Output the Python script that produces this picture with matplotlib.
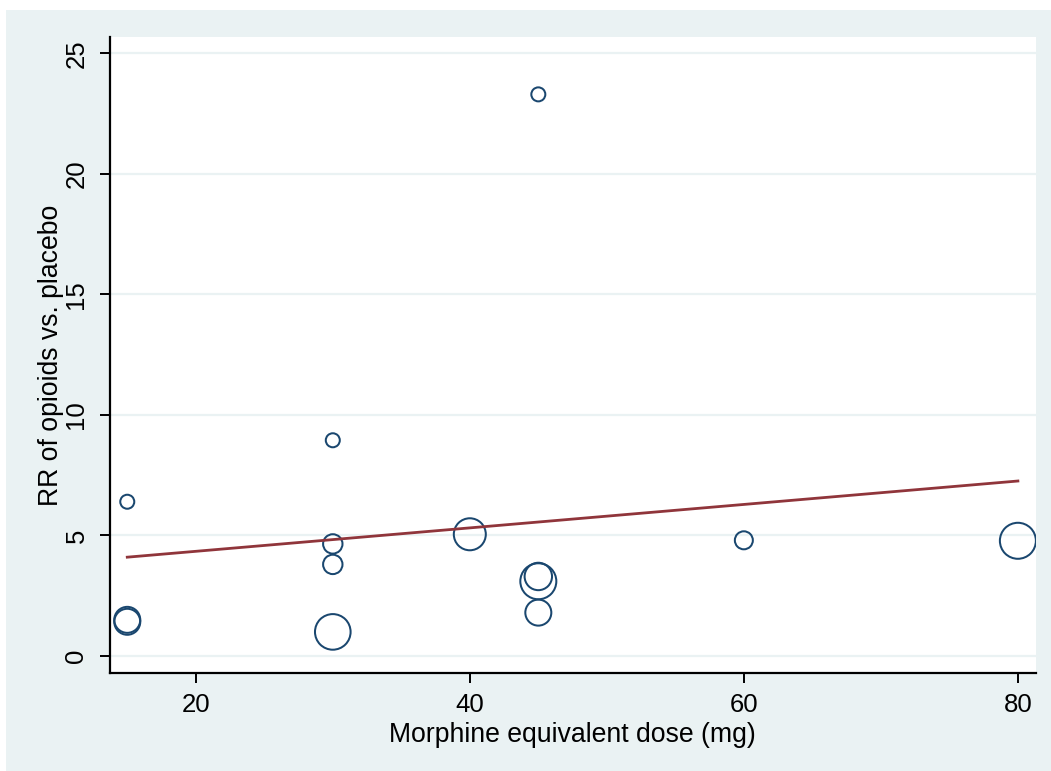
import matplotlib
matplotlib.use("Agg")
import matplotlib.pyplot as plt
from matplotlib.patches import Rectangle
import numpy as np

# Data
dose = [15, 15, 15, 30, 30, 30, 30, 40, 45, 45, 45, 45, 60, 80]
rr = [6.4, 1.5, 1.42, 8.95, 4.65, 3.8, 1.0, 5.05, 23.3, 3.3, 3.1, 1.8, 4.8, 4.78]
# relative study weight (bubble area)
weights = [49, 169, 169, 49, 94, 94, 317, 256, 49, 188, 324, 169, 81, 324]

fit_x = [15, 80]
fit_y = [4.1, 7.26]

xticks = [20, 40, 60, 80]
yticks = [0, 5, 10, 15, 20, 25]
xlabel = "Morphine equivalent dose (mg)"
ylabel = "RR of opioids vs. placebo"

W, H = 1051, 771
fig = plt.figure(figsize=(W / 100, H / 100), dpi=100)
fig.patch.set_facecolor("white")
fig.patches.append(Rectangle((6 / W, 0), 1 - 6 / W, (H - 10) / H,
                             transform=fig.transFigure, facecolor="#eaf2f3",
                             edgecolor="none", zorder=-10))

left, right, top, bottom = 110, 1035.7, 37, 673
ax = fig.add_axes([left / W, (H - bottom) / H, (right - left) / W, (bottom - top) / H])
ax.set_facecolor("white")

ax.set_xlim(13.74, 81.3)
ax.set_ylim(-0.705, 25.68)

for y in yticks:
    ax.axhline(y, color="#eaf2f3", lw=1.6, zorder=1)

# bubble sizes: weight ~ radius^2 in px
sizes = [(2 * np.sqrt(w) * 0.72) ** 2 for w in weights]
ax.scatter(dose, rr, s=sizes, facecolors="none", edgecolors="#1a476f",
           linewidths=1.45, zorder=3)

ax.plot(fit_x, fit_y, color="#90353b", lw=2.0, zorder=4)

ax.set_xticks(xticks)
ax.set_yticks(yticks)
ax.tick_params(axis="both", direction="out", length=7.5, width=1.4, color="black",
               labelsize=18.5)
ax.tick_params(axis="x", pad=6.8)
ax.tick_params(axis="y", pad=8)
for lab in ax.get_yticklabels():
    lab.set_rotation(90)
    lab.set_va("center")
for lab in ax.get_xticklabels() + ax.get_yticklabels():
    lab.set_fontfamily("Liberation Sans")

for s in ["top", "right"]:
    ax.spines[s].set_visible(False)
for s in ["left", "bottom"]:
    ax.spines[s].set_linewidth(1.6)
    ax.spines[s].set_color("black")

ax.set_xlabel(xlabel, fontsize=19.2, fontfamily="Liberation Sans", labelpad=4)
ax.set_ylabel(ylabel, fontsize=19.2, fontfamily="Liberation Sans", labelpad=0.5)

fig.savefig("out.png", dpi=100, facecolor=fig.get_facecolor())
